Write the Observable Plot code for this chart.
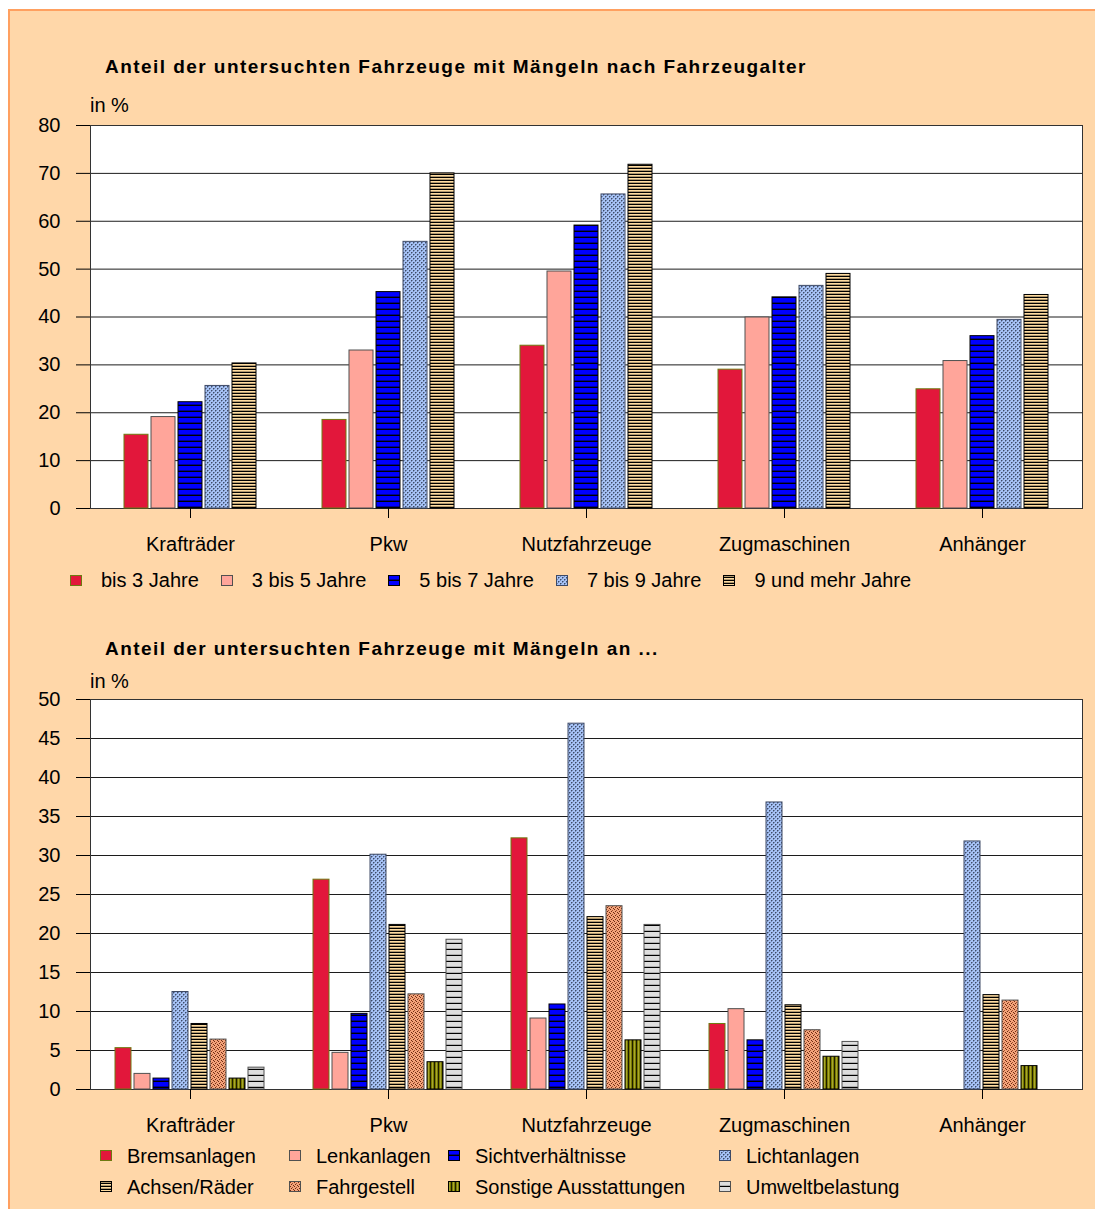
<!DOCTYPE html>
<html>
<head>
<meta charset="utf-8">
<script src="https://cdn.jsdelivr.net/npm/d3@7"></script>
<script src="https://cdn.jsdelivr.net/npm/@observablehq/plot@0.6"></script>
<style>
  html, body { margin:0; padding:0; background:#fff; width:1095px; height:1209px; overflow:hidden;
    font-family:"Liberation Sans", Arial, sans-serif; color:#000; }
  #panel { position:absolute; left:8px; top:9px; width:1100px; height:1220px; background:#FFD7A9;
    border-top:2px solid #FFA060; border-left:2px solid #FFA060; }
  .abs { position:absolute; }
  .title { font-weight:bold; font-size:19px; line-height:19px; letter-spacing:1.45px; white-space:nowrap; }
  .unit { font-size:20px; line-height:20px; white-space:nowrap; }
  .legend-row { display:flex; align-items:center; font-size:20px; line-height:22px; white-space:nowrap; }
  .legend-row .item { display:flex; align-items:center; margin-right:22px; }
  .legend-row svg, .legend-grid svg { display:block; margin-right:19px; }
  .legend-grid { display:grid; grid-template-columns:189px 159px 271px 300px; grid-auto-rows:31px;
    font-size:20px; line-height:22px; white-space:nowrap; }
  .legend-grid .item { display:flex; align-items:center; }
  .legend-grid svg { margin-right:15px; }
</style>
</head>
<body>
<svg width="0" height="0" style="position:absolute">
  <defs>
    <pattern id="p-red" patternUnits="userSpaceOnUse" width="4" height="4">
      <rect width="4" height="4" fill="#E2173B"/>
    </pattern>
    <pattern id="p-pink" patternUnits="userSpaceOnUse" width="4" height="4">
      <rect width="4" height="4" fill="#FFA59A"/>
    </pattern>
    <pattern id="p-blue" patternUnits="userSpaceOnUse" width="6" height="6">
      <rect width="6" height="6" fill="#0000FF"/>
      <rect y="4.6" width="6" height="1.4" fill="#000"/>
    </pattern>
    <pattern id="p-lblue" patternUnits="userSpaceOnUse" width="4" height="4">
      <rect width="4" height="4" fill="#A6C2F6"/>
      <rect x="0" y="0" width="1" height="1" fill="#3E4C68"/>
      <rect x="2" y="2" width="1" height="1" fill="#3E4C68"/>
      <rect x="1" y="0" width="1" height="1" fill="#7388B0"/>
      <rect x="0" y="1" width="1" height="1" fill="#7388B0"/>
      <rect x="3" y="2" width="1" height="1" fill="#7388B0"/>
      <rect x="2" y="3" width="1" height="1" fill="#7388B0"/>
    </pattern>
    <pattern id="p-tan" patternUnits="userSpaceOnUse" width="3" height="3">
      <rect width="3" height="3" fill="#FFDCA0"/>
      <rect y="1.7" width="3" height="1.3" fill="#000"/>
    </pattern>
    <pattern id="p-fahr" patternUnits="userSpaceOnUse" width="4" height="4">
      <rect width="4" height="4" fill="#F4A37A"/>
      <rect x="0" y="0" width="1" height="1" fill="#6E2C12"/>
      <rect x="1" y="1" width="1" height="1" fill="#6E2C12"/>
      <rect x="3" y="2" width="1" height="1" fill="#A05030"/>
      <rect x="2" y="3" width="1" height="1" fill="#6E2C12"/>
    </pattern>
    <pattern id="p-sonst" patternUnits="userSpaceOnUse" width="4" height="4">
      <rect width="4" height="4" fill="#7A7A00"/>
      <rect x="1" width="1" height="4" fill="#A8A830"/>
      <rect x="3" width="1" height="4" fill="#1E1E00"/>
    </pattern>
    <pattern id="p-gray" patternUnits="userSpaceOnUse" width="6" height="6">
      <rect width="6" height="6" fill="#DEDEDE"/>
      <rect y="4.8" width="6" height="1.2" fill="#000"/>
    </pattern>
  </defs>
</svg>

<div id="panel"></div>
<div class="abs title" style="left:105px;top:57px;">Anteil der untersuchten Fahrzeuge mit Mängeln nach Fahrzeugalter</div>
<div class="abs unit" style="left:90px;top:95px;">in %</div>
<div id="chart1"></div>
<div id="legend1" class="abs legend-row" style="left:70px;top:569px;"></div>

<div class="abs title" style="left:105px;top:639px;">Anteil der untersuchten Fahrzeuge mit Mängeln an ...</div>
<div class="abs unit" style="left:90px;top:671px;">in %</div>
<div id="chart2"></div>
<div id="legend2" class="abs legend-grid" style="left:100px;top:1140px;"></div>

<script>
// ---------- data ----------
const categories = ["Krafträder", "Pkw", "Nutzfahrzeuge", "Zugmaschinen", "Anhänger"];

const ageGroups = ["bis 3 Jahre", "3 bis 5 Jahre", "5 bis 7 Jahre", "7 bis 9 Jahre", "9 und mehr Jahre"];
const ageBis3   = [15.4, 18.5, 34.0, 29.0, 24.9];
const age3bis5  = [19.1, 33.0, 49.5, 39.9, 30.8];
const age5bis7  = [22.2, 45.2, 59.1, 44.1, 36.0];
const age7bis9  = [25.6, 55.7, 65.6, 46.5, 39.4];
const age9mehr  = [30.3, 70.0, 71.8, 49.0, 44.6];

const defectTypes = ["Bremsanlagen", "Lenkanlagen", "Sichtverhältnisse", "Lichtanlagen",
                     "Achsen/Räder", "Fahrgestell", "Sonstige Ausstattungen", "Umweltbelastung"];
const bremsanlagen   = [5.3, 26.9, 32.2, 8.4, null];
const lenkanlagen    = [2.0, 4.7, 9.1, 10.3, null];
const sicht          = [1.4, 9.7, 10.9, 6.3, null];
const lichtanlagen   = [12.5, 30.1, 46.9, 36.8, 31.8];
const achsenRaeder   = [8.4, 21.1, 22.1, 10.8, 12.1];
const fahrgestell    = [6.4, 12.2, 23.5, 7.6, 11.4];
const sonstige       = [1.4, 3.5, 6.3, 4.2, 3.0];
const umwelt         = [2.8, 19.2, 21.1, 6.1, null];

const yTicksTop    = [0, 10, 20, 30, 40, 50, 60, 70, 80];
const yTicksBottom = [0, 5, 10, 15, 20, 25, 30, 35, 40, 45, 50];

// ---------- styles ----------
const FONT = "'Liberation Sans', Arial, sans-serif";
const ageFills   = ["url(#p-red)", "url(#p-pink)", "url(#p-blue)", "url(#p-lblue)", "url(#p-tan)"];
const ageStrokes = ["#6E7A10", "#505050", "#000", "#3E4A66", "#000"];
const defFills   = ["url(#p-red)", "url(#p-pink)", "url(#p-blue)", "url(#p-lblue)",
                    "url(#p-tan)", "url(#p-fahr)", "url(#p-sonst)", "url(#p-gray)"];
const defStrokes = ["#6E7A10", "#505050", "#000", "#3E4A66", "#000", "#505050", "#000", "#505050"];

function rowsFrom(series, valueArrays) {
  return categories.flatMap((c, i) => series.map((s, j) => ({category: c, series: s, value: valueArrays[j][i]})));
}

function drawChart(container, cfg) {
  const W = 1095;
  const common = {
    width: W, height: cfg.height,
    marginLeft: 90, marginRight: 13, marginTop: cfg.marginTop, marginBottom: cfg.marginBottom,
    style: {background: "transparent", fontFamily: FONT, fontSize: "20px", color: "#000", overflow: "visible"}
  };
  const bg = Plot.plot({
    ...common,
    x: {axis: null, domain: [0, 1]},
    y: {domain: [0, cfg.yMax], ticks: cfg.yTicks, tickSize: 14, tickPadding: 16, label: null, tickFormat: d => String(d)},
    marks: [
      Plot.frame({fill: "#fff", stroke: null}),
      Plot.ruleY(cfg.yTicks, {stroke: "#1c1c1c", strokeWidth: 1}),
      Plot.frame({stroke: "#333"})
    ]
  });
  const rows = rowsFrom(cfg.series, cfg.values);
  const fg = Plot.plot({
    ...common,
    fx: {domain: categories, padding: 0, label: null, axis: "bottom", tickSize: 10, tickPadding: 18},
    x: {domain: cfg.series, axis: null, paddingInner: cfg.pi, paddingOuter: cfg.po},
    y: {domain: [0, cfg.yMax], axis: null},
    color: {type: "ordinal", domain: cfg.series, range: cfg.fills},
    marks: cfg.series.map((s, j) => Plot.barY(
      rows.filter(r => r.series === s && r.value != null),
      {fx: "category", x: "series", y: "value", fill: "series", stroke: cfg.strokes[j], strokeWidth: 1}
    ))
  });
  for (const svg of [bg, fg]) {
    svg.style.position = "absolute";
    svg.style.left = "0px";
    svg.style.top = cfg.top + "px";
    container.appendChild(svg);
  }
}

drawChart(document.getElementById("chart1"), {
  top: 100, height: 470, marginTop: 25, marginBottom: 62,
  yMax: 80, yTicks: yTicksTop,
  series: ageGroups, values: [ageBis3, age3bis5, age5bis7, age7bis9, age9mehr],
  fills: ageFills, strokes: ageStrokes, pi: 3 / 28, po: 1.096
});

drawChart(document.getElementById("chart2"), {
  top: 680, height: 470, marginTop: 19, marginBottom: 61,
  yMax: 50, yTicks: yTicksBottom,
  series: defectTypes,
  values: [bremsanlagen, lenkanlagen, sicht, lichtanlagen, achsenRaeder, fahrgestell, sonstige, umwelt],
  fills: defFills, strokes: defStrokes, pi: 0.15, po: 1.035
});

// ---------- legends ----------
function swatch(fill, stroke) {
  const ns = "http://www.w3.org/2000/svg";
  const svg = document.createElementNS(ns, "svg");
  svg.setAttribute("width", 12); svg.setAttribute("height", 11);
  const r = document.createElementNS(ns, "rect");
  r.setAttribute("x", 0.5); r.setAttribute("y", 0.5);
  r.setAttribute("width", 11); r.setAttribute("height", 10);
  r.setAttribute("fill", fill); r.setAttribute("stroke", stroke);
  svg.appendChild(r);
  return svg;
}
function legend(el, labels, fills, strokes) {
  labels.forEach((l, i) => {
    const item = document.createElement("div");
    item.className = "item";
    item.appendChild(swatch(fills[i], strokes[i]));
    const t = document.createElement("span");
    t.textContent = l;
    item.appendChild(t);
    el.appendChild(item);
  });
}
legend(document.getElementById("legend1"), ageGroups, ageFills, ageStrokes);
legend(document.getElementById("legend2"), defectTypes, defFills, defStrokes);
</script>
</body>
</html>
